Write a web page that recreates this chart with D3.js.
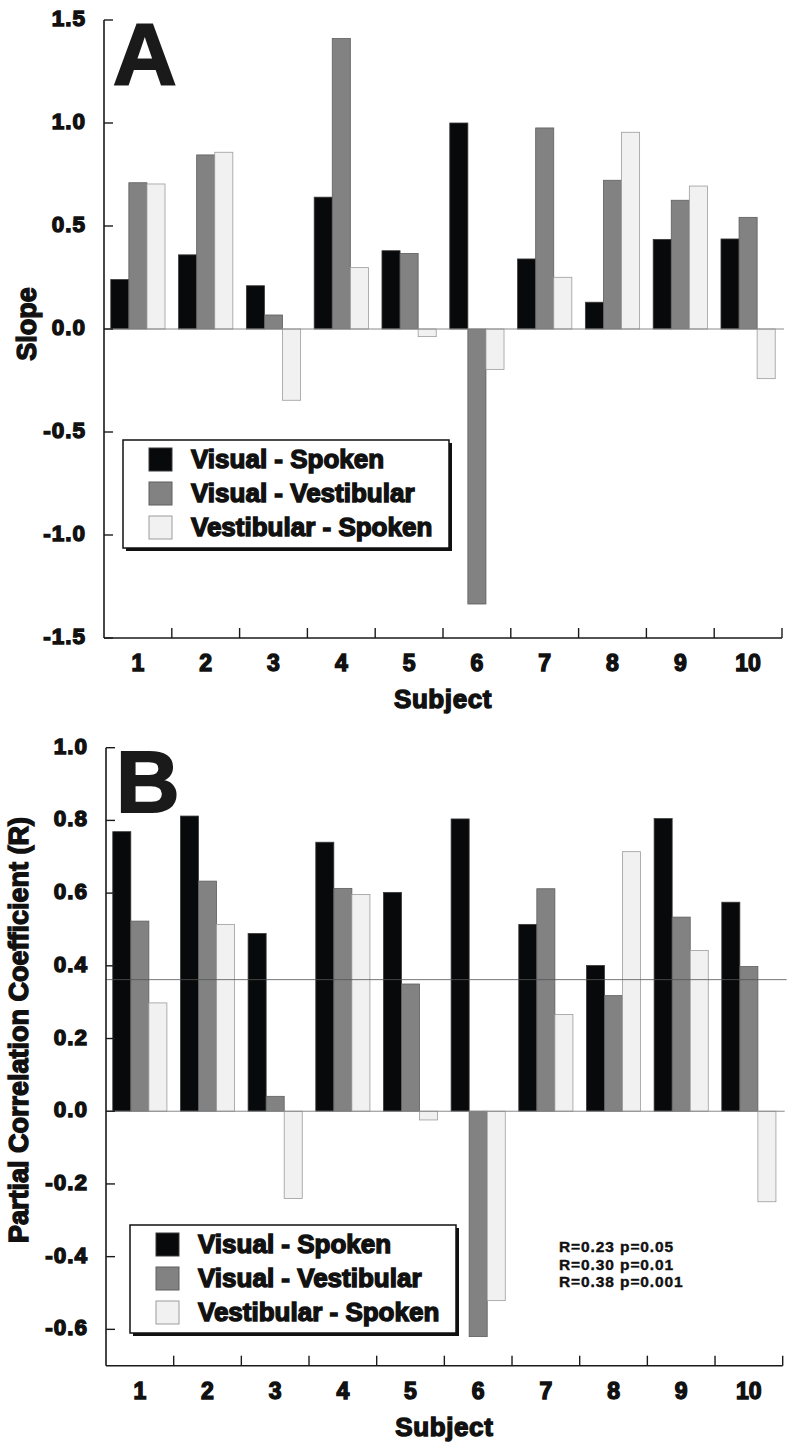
<!DOCTYPE html>
<html>
<head>
<meta charset="utf-8">
<script src="https://cdn.jsdelivr.net/npm/d3@7"></script>
<style>
  body { margin: 0; background: #fff; }
  svg { display: block; font-family: "Liberation Sans", Arial, sans-serif; font-weight: bold; }
  text.heavy { stroke: #111; stroke-width: 1.4px; paint-order: stroke; }
</style>
</head>
<body>
<svg id="chart" width="793" height="1451"></svg>
<script>
// ---- data ----
const subjects = ['1', '2', '3', '4', '5', '6', '7', '8', '9', '10'];
const seriesNames = ['Visual - Spoken', 'Visual - Vestibular', 'Vestibular - Spoken'];
const seriesColors = ['#08090a', '#818281', '#f1f1f1'];
const seriesStrokes = ['#3a3a3a', '#5e5e5e', '#9c9c9c'];

// panel A: slope
const slopeVisualSpoken     = [0.24, 0.36, 0.21, 0.64, 0.38, 1.00, 0.34, 0.13, 0.435, 0.437];
const slopeVisualVestibular = [0.71, 0.845, 0.068, 1.41, 0.367, -1.335, 0.976, 0.722, 0.625, 0.542];
const slopeVestibularSpoken = [0.704, 0.858, -0.346, 0.298, -0.037, -0.196, 0.251, 0.955, 0.694, -0.241];
const slopeTicks = [-1.5, -1.0, -0.5, 0.0, 0.5, 1.0, 1.5];

// panel B: partial correlation coefficient
const corrVisualSpoken     = [0.769, 0.812, 0.489, 0.740, 0.602, 0.804, 0.514, 0.401, 0.805, 0.575];
const corrVisualVestibular = [0.523, 0.633, 0.041, 0.613, 0.350, -0.620, 0.612, 0.318, 0.534, 0.398];
const corrVestibularSpoken = [0.298, 0.514, -0.240, 0.596, -0.024, -0.521, 0.266, 0.714, 0.442, -0.249];
const corrTicks = [-0.6, -0.4, -0.2, 0.0, 0.2, 0.4, 0.6, 0.8, 1.0];
const corrThreshold = 0.362;
const statsLines = ['R=0.23 p=0.05', 'R=0.30 p=0.01', 'R=0.38 p=0.001'];

const svg = d3.select('#chart');

function drawPanel(opts) {
    const g = svg.append('g');
    const x = d3.scaleBand()
        .domain(subjects)
        .range([opts.left, opts.right])
        .paddingInner(0.2)
        .paddingOuter(0.1);
    const xs = d3.scaleBand().domain(seriesNames).range([0, x.bandwidth()]);
    const y = d3.scaleLinear().domain(opts.domain).range([opts.bottom, opts.top]);

    // bars
    opts.series.forEach((vals, si) => {
        g.selectAll(null)
            .data(vals.map((v, i) => ({ s: subjects[i], v })))
            .enter()
            .append('rect')
            .attr('x', d => x(d.s) + xs(seriesNames[si]))
            .attr('y', d => Math.min(y(d.v), y(0)))
            .attr('width', xs.bandwidth())
            .attr('height', d => Math.abs(y(d.v) - y(0)))
            .style('fill', seriesColors[si])
            .style('stroke', seriesStrokes[si])
            .style('stroke-width', 0.8);
    });

    // zero line
    g.append('line')
        .attr('x1', opts.left).attr('x2', opts.right + 2)
        .attr('y1', y(0)).attr('y2', y(0))
        .style('stroke', '#8a8a8a').style('stroke-width', 1);

    if (opts.refLine != null) {
        g.append('line')
            .attr('x1', opts.left).attr('x2', opts.right + 4)
            .attr('y1', y(opts.refLine)).attr('y2', y(opts.refLine))
            .style('stroke', '#555').style('stroke-opacity', 0.8).style('stroke-width', 1);
    }

    // left axis, ticks pointing inward
    const axisColor = '#1a1a1a';
    g.append('line')
        .attr('x1', opts.left).attr('x2', opts.left)
        .attr('y1', opts.top).attr('y2', opts.bottom)
        .style('stroke', axisColor).style('stroke-width', 1.6);
    g.selectAll(null).data(opts.ticks).enter().append('line')
        .attr('x1', opts.left).attr('x2', opts.left + 9)
        .attr('y1', d => y(d)).attr('y2', d => y(d))
        .style('stroke', axisColor).style('stroke-width', 1.4);
    g.selectAll(null).data(opts.ticks).enter().append('text')
        .attr('class', 'heavy')
        .attr('x', opts.left - 18)
        .attr('y', d => y(d) + 6)
        .attr('text-anchor', 'end')
        .style('font-size', '22.5px')
        .style('letter-spacing', '1px')
        .style('fill', '#111')
        .text(d => d.toFixed(opts.digits));

    // bottom axis, ticks pointing up at band boundaries
    g.append('line')
        .attr('x1', opts.left).attr('x2', opts.right)
        .attr('y1', opts.bottom).attr('y2', opts.bottom)
        .style('stroke', axisColor).style('stroke-width', 1.6);
    g.selectAll(null).data(subjects).enter().append('line')
        .attr('x1', d => x(d) + x.bandwidth() + (x.step() - x.bandwidth()) / 2)
        .attr('x2', d => x(d) + x.bandwidth() + (x.step() - x.bandwidth()) / 2)
        .attr('y1', opts.bottom).attr('y2', opts.bottom - 10)
        .style('stroke', axisColor).style('stroke-width', 1.4);
    g.selectAll(null).data(subjects).enter().append('text')
        .attr('class', 'heavy')
        .attr('x', d => x(d) + x.bandwidth() / 2)
        .attr('y', opts.bottom + 33)
        .attr('text-anchor', 'middle')
        .style('font-size', '23px')
        .style('fill', '#111')
        .text(d => d);

    // axis titles
    g.append('text')
        .attr('class', 'heavy')
        .attr('x', (opts.left + opts.right) / 2)
        .attr('y', opts.bottom + 70)
        .attr('text-anchor', 'middle')
        .style('font-size', '26px')
        .style('letter-spacing', '0.6px')
        .style('fill', '#111')
        .text('Subject');
    g.append('text')
        .attr('class', 'heavy')
        .attr('transform', `translate(${opts.yTitleX},${opts.yTitleY}) rotate(-90)`)
        .attr('text-anchor', 'middle')
        .style('font-size', opts.yTitleSize + 'px')
        .style('fill', '#111')
        .text(opts.yTitle);

    // panel letter
    g.append('text')
        .attr('x', opts.letterX).attr('y', opts.letterY)
        .style('font-size', '88px')
        .style('fill', '#1a1a1a')
        .style('stroke', '#1a1a1a')
        .style('stroke-width', 2)
        .text(opts.letter);

    // legend
    const lg = svg.append('g').attr('transform', `translate(${opts.legendX},${opts.legendY})`);
    lg.append('rect')
        .attr('x', 3).attr('y', 3).attr('width', 326).attr('height', 108)
        .style('fill', '#111');
    lg.append('rect')
        .attr('x', 0).attr('y', 0).attr('width', 326).attr('height', 108)
        .style('fill', '#fff').style('stroke', '#111').style('stroke-width', 1.5);
    const rows = lg.selectAll(null).data(seriesNames).enter().append('g')
        .attr('transform', (d, i) => `translate(0,${8 + i * 34})`);
    rows.append('rect')
        .attr('x', 26).attr('y', 0).attr('width', 23).attr('height', 23)
        .style('fill', (d, i) => seriesColors[i])
        .style('stroke', (d, i) => seriesStrokes[i])
        .style('stroke-width', 1);
    rows.append('text')
        .attr('class', 'heavy')
        .attr('x', 68).attr('y', 20)
        .style('font-size', '26px')
        .style('fill', '#111')
        .text(d => d);

    return { x, y };
}

drawPanel({
    left: 104, right: 782, top: 20, bottom: 638,
    domain: [-1.5, 1.5], ticks: slopeTicks, digits: 1,
    series: [slopeVisualSpoken, slopeVisualVestibular, slopeVestibularSpoken],
    yTitle: 'Slope', yTitleX: 36, yTitleY: 324, yTitleSize: 27,
    letter: 'A', letterX: 113, letterY: 84,
    legendX: 123, legendY: 440
});

drawPanel({
    left: 106, right: 782.7, top: 747.7, bottom: 1365.7,
    domain: [-0.7, 1.0], ticks: corrTicks, digits: 1,
    series: [corrVisualSpoken, corrVisualVestibular, corrVestibularSpoken],
    refLine: corrThreshold,
    yTitle: 'Partial Correlation Coefficient (R)', yTitleX: 28, yTitleY: 1030, yTitleSize: 27,
    letter: 'B', letterX: 116, letterY: 812,
    legendX: 130, legendY: 1225
});

// significance thresholds
svg.append('g').selectAll('text')
    .data(statsLines)
    .enter()
    .append('text')
    .attr('x', 559)
    .attr('y', (d, i) => 1252 + i * 17.5)
    .style('font-size', '15.5px')
    .style('letter-spacing', '0.9px')
    .style('fill', '#111')
    .style('stroke', '#111')
    .style('stroke-width', 0.4)
    .text(d => d);
</script>
</body>
</html>
